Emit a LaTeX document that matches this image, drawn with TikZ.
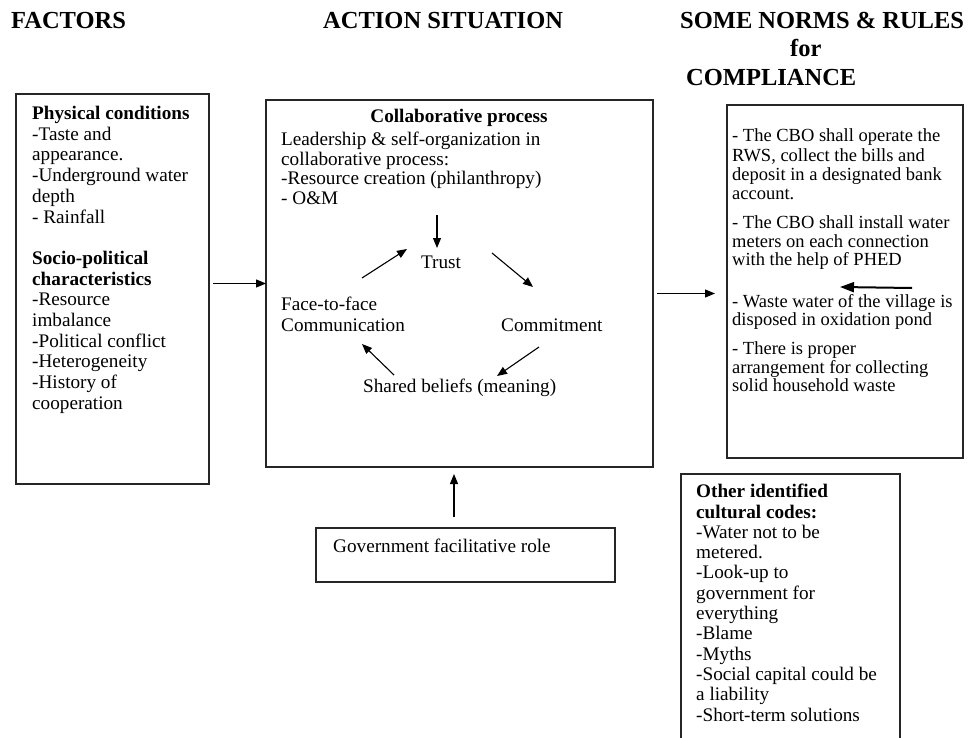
\documentclass[tikz,border=0pt]{standalone}
\usepackage{fontspec}
\setmainfont{Liberation Serif}
\usetikzlibrary{arrows.meta,calc}
\begin{document}
\begin{tikzpicture}[x=1pt,y=-1pt]
\tikzset{
 boxline/.style={draw=black!85,line width=1.3pt,anchor=north west,inner sep=0pt,outer sep=0pt},
 head/.style={font=\fontsize{24.5}{28}\selectfont\bfseries,inner sep=0pt,anchor=base west},
 body/.style={font=\fontsize{19.2}{20.7}\selectfont,align=left,inner sep=0pt,anchor=north west},
 rulefont/.style={font=\fontsize{18.5}{18.5}\selectfont,align=left,inner sep=0pt,anchor=north west},
 word/.style={font=\fontsize{19.2}{20.7}\selectfont,inner sep=0pt,anchor=base west},
 arr/.style={-{Triangle[length=10pt,width=8pt]},line width=1.1pt},
 thickarr/.style={-{Triangle[length=14pt,width=10pt]},line width=2pt}
}
\useasboundingbox (0,0) rectangle (977,738);
\clip (0,0) rectangle (977,738);
\fill[white] (0,0) rectangle (977,738);

% headers
\node[head] (h1) at (11,29) {FACTORS};
\node[head] (h2) at (323,29) {ACTION SITUATION};
\node[head] (h3) at (680,29) {SOME NORMS \& RULES};
\node[head] (h4) at (790,57) {for};
\node[head] (h5) at (686,86) {COMPLIANCE};

% boxes
\node[boxline,minimum width=193pt,minimum height=390pt] (leftbox) at (16,94) {};
\node[boxline,minimum width=387pt,minimum height=367pt] (midbox) at (266,100) {};
\node[boxline,minimum width=236pt,minimum height=353pt] (rightbox) at (727,105) {};
\node[boxline,minimum width=219pt,minimum height=300pt] (otherbox) at (681,474) {};
\node[boxline,minimum width=299pt,minimum height=54pt] (govbox) at (316,528) {};

% left text
\node[body] (factorstext) at (32,106) {\textbf{Physical conditions}\\-Taste and\\appearance.\\-Underground water\\depth\\- Rainfall\\[20.7pt]\textbf{Socio-political}\\\textbf{characteristics}\\-Resource\\imbalance\\-Political conflict\\-Heterogeneity\\-History of\\cooperation};

% middle text
\node[word,anchor=base] (collab) at (459,123) {\textbf{Collaborative process}};
\node[body,font=\fontsize{19.2}{19.5}\selectfont] (lead) at (281,132) {Leadership \& self-organization in\\collaborative process:\\-Resource creation (philanthropy)\\- O\&M};
\node[word,anchor=base] (trust) at (441,268) {Trust};
\node[body] (face) at (281,297) {Face-to-face\\Communication};
\node[word] (commit) at (501,331) {Commitment};
\node[word] (shared) at (363,392) {Shared beliefs (meaning)};

\coordinate (dnS) at (437,215); \coordinate (dnE) at (437,248);
\coordinate (ftS) at (362,278); \coordinate (ftE) at (407,249);
\coordinate (tcS) at (492,253); \coordinate (tcE) at (533,287);
\coordinate (csS) at (539,347); \coordinate (csE) at (497,376);
\coordinate (sfS) at (394,375); \coordinate (sfE) at (362,344);
\draw[arr] (dnS) -- (dnE);
\draw[arr] (ftS) -- (ftE);
\draw[arr] (tcS) -- (tcE);
\draw[arr] (csS) -- (csE);
\draw[arr] (sfS) -- (sfE);

% right text
\node[rulefont,font=\fontsize{18.5}{19.3}\selectfont] (rule1) at (732,128.9) {- The CBO shall operate the\\RWS, collect the bills and\\deposit in a designated bank\\account.};
\node[rulefont] (rule2) at (732,215.9) {- The CBO shall install water\\meters on each connection\\with the help of PHED};
\node[rulefont] (rule3) at (732,293.9) {- Waste water of the village is\\disposed in oxidation pond};
\node[rulefont] (rule4) at (732,341.9) {- There is proper\\arrangement for collecting\\solid household waste};
\coordinate (raS) at (912,288); \coordinate (raE) at (840,287);
\draw[thickarr] (raS) -- (raE);

% other codes
\node[body,font=\fontsize{19.2}{20.3}\selectfont] (codes) at (696,484) {\textbf{Other identified}\\\textbf{cultural codes:}\\-Water not to be\\metered.\\-Look-up to\\government for\\everything\\-Blame\\-Myths\\-Social capital could be\\a liability\\-Short-term solutions};

% government
\node[word] (govtext) at (333,552) {Government facilitative role};

% connectors between boxes
\draw[arr] ([xshift=4pt]leftbox.east |- midbox.west) -- (midbox.west);
\draw[arr] ([shift={(4pt,-10pt)}]midbox.east) -- ([shift={(-12pt,-10pt)}]midbox.east -| rightbox.west);
\draw[arr] ([xshift=-11.5pt,yshift=11pt]govbox.north) -- ([xshift=-11.5pt,yshift=-7pt]govbox.north |- midbox.south);
\end{tikzpicture}
\end{document}
